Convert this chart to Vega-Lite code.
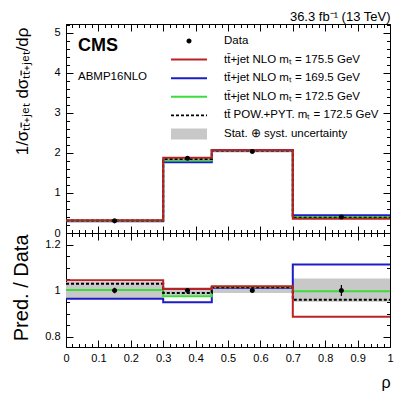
{
  "$schema": "https://vega.github.io/schema/vega-lite/v6.json",
  "autosize": {"type": "none"},
  "width": 324,
  "height": 323,
  "padding": {"left": 66, "top": 24, "right": 17, "bottom": 48},
  "background": "white",
  "title": {
    "text": "CMS",
    "subtitle": "ABMP16NLO",
    "anchor": "start",
    "frame": "group",
    "orient": "top",
    "offset": -72,
    "dx": 12,
    "font": "Liberation Sans",
    "fontSize": 18,
    "fontWeight": "bold",
    "color": "black",
    "subtitleFont": "Liberation Sans",
    "subtitleFontSize": 11.5,
    "subtitleColor": "black",
    "subtitlePadding": 16
  },
  "datasets": {
    "lines": [
      {"series": "tt\u0304+jet NLO m\u209c = 169.5 GeV", "x": 0, "value": 0.292, "ratio": 0.965},
      {"series": "tt\u0304+jet NLO m\u209c = 169.5 GeV", "x": 0.3, "value": 1.770, "ratio": 0.949},
      {"series": "tt\u0304+jet NLO m\u209c = 169.5 GeV", "x": 0.45, "value": 2.059, "ratio": 1.012},
      {"series": "tt\u0304+jet NLO m\u209c = 169.5 GeV", "x": 0.7, "value": 0.445, "ratio": 1.113},
      {"series": "tt\u0304+jet NLO m\u209c = 169.5 GeV", "x": 1, "value": 0.445, "ratio": 1.113},
      {"series": "tt\u0304+jet NLO m\u209c = 172.5 GeV", "x": 0, "value": 0.304, "ratio": 1.003},
      {"series": "tt\u0304+jet NLO m\u209c = 172.5 GeV", "x": 0.3, "value": 1.818, "ratio": 0.975},
      {"series": "tt\u0304+jet NLO m\u209c = 172.5 GeV", "x": 0.45, "value": 2.068, "ratio": 1.016},
      {"series": "tt\u0304+jet NLO m\u209c = 172.5 GeV", "x": 0.7, "value": 0.399, "ratio": 0.997},
      {"series": "tt\u0304+jet NLO m\u209c = 172.5 GeV", "x": 1, "value": 0.399, "ratio": 0.997},
      {"series": "tt\u0304 POW.+PYT. m\u209c = 172.5 GeV", "x": 0, "value": 0.312, "ratio": 1.030},
      {"series": "tt\u0304 POW.+PYT. m\u209c = 172.5 GeV", "x": 0.3, "value": 1.846, "ratio": 0.990},
      {"series": "tt\u0304 POW.+PYT. m\u209c = 172.5 GeV", "x": 0.45, "value": 2.063, "ratio": 1.014},
      {"series": "tt\u0304 POW.+PYT. m\u209c = 172.5 GeV", "x": 0.7, "value": 0.384, "ratio": 0.960},
      {"series": "tt\u0304 POW.+PYT. m\u209c = 172.5 GeV", "x": 1, "value": 0.384, "ratio": 0.960},
      {"series": "tt\u0304+jet NLO m\u209c = 175.5 GeV", "x": 0, "value": 0.317, "ratio": 1.045},
      {"series": "tt\u0304+jet NLO m\u209c = 175.5 GeV", "x": 0.3, "value": 1.878, "ratio": 1.007},
      {"series": "tt\u0304+jet NLO m\u209c = 175.5 GeV", "x": 0.45, "value": 2.074, "ratio": 1.019},
      {"series": "tt\u0304+jet NLO m\u209c = 175.5 GeV", "x": 0.7, "value": 0.354, "ratio": 0.886},
      {"series": "tt\u0304+jet NLO m\u209c = 175.5 GeV", "x": 1, "value": 0.354, "ratio": 0.886}
    ],
    "bins": [
      {"series": "Stat. \u2295 syst. uncertainty", "lo": 0, "hi": 0.3, "band_lo": 0.292, "band_hi": 0.314, "rband_lo": 0.965, "rband_hi": 1.037},
      {"series": "Stat. \u2295 syst. uncertainty", "lo": 0.3, "hi": 0.45, "band_lo": 1.826, "band_hi": 1.891, "rband_lo": 0.979, "rband_hi": 1.014},
      {"series": "Stat. \u2295 syst. uncertainty", "lo": 0.45, "hi": 0.7, "band_lo": 2.013, "band_hi": 2.063, "rband_lo": 0.989, "rband_hi": 1.014},
      {"series": "Stat. \u2295 syst. uncertainty", "lo": 0.7, "hi": 1, "band_lo": 0.381, "band_hi": 0.421, "rband_lo": 0.952, "rband_hi": 1.052}
    ],
    "points": [
      {"series": "Data", "x": 0.15, "value": 0.303, "err_lo": 0.299, "err_hi": 0.307, "ratio": 1, "rerr_lo": 0.988, "rerr_hi": 1.012},
      {"series": "Data", "x": 0.375, "value": 1.865, "err_lo": 1.846, "err_hi": 1.884, "ratio": 1, "rerr_lo": 0.99, "rerr_hi": 1.01},
      {"series": "Data", "x": 0.575, "value": 2.035, "err_lo": 2.027, "err_hi": 2.043, "ratio": 1, "rerr_lo": 0.996, "rerr_hi": 1.004},
      {"series": "Data", "x": 0.85, "value": 0.40, "err_lo": 0.39, "err_hi": 0.41, "ratio": 1, "rerr_lo": 0.976, "rerr_hi": 1.024}
    ]
  },
  "resolve": {
    "scale": {"y": "independent"},
    "axis": {"x": "independent", "y": "independent"}
  },
  "layer": [
    {
      "data": {"name": "bins"},
      "mark": {"type": "rect", "opacity": 1},
      "encoding": {
        "x": {"field": "lo", "type": "quantitative", "scale": {"domain": [0, 1], "nice": false, "zero": false},
          "axis": {"orient": "top", "values": [0, 0.1, 0.2, 0.3, 0.4, 0.5, 0.6, 0.7, 0.8, 0.9, 1], "tickSize": -7, "labels": false, "domain": false,
            "title": "36.3 fb\u207b\u00b9 (13 TeV)", "titleX": 324, "titleY": -4, "titleAlign": "right", "titleAnchor": "end", "titleBaseline": "alphabetic", "titleFontSize": 13, "titleAngle": 0}},
        "x2": {"field": "hi"},
        "y": {"field": "band_lo", "type": "quantitative", "scale": {"domain": [0, 5.22], "range": [209, 0], "nice": false, "zero": false},
          "axis": {"orient": "left", "values": [0, 1, 2, 3, 4, 5], "tickSize": -7, "labelPadding": 13, "format": "d", "domain": false,
            "title": "1/\u03c3\u209c\u209c\u0304\u208a\u2c7c\u2091\u209c d\u03c3\u209c\u209c\u0304\u208a\u2c7c\u2091\u209c/d\u03c1", "titleX": -39, "titleY": 3, "titleAngle": -90, "titleAlign": "right", "titleBaseline": "alphabetic", "titleFontSize": 17}},
        "y2": {"field": "band_hi"},
        "color": {"field": "series", "type": "nominal",
          "scale": {
            "domain": ["Data", "tt\u0304+jet NLO m\u209c = 175.5 GeV", "tt\u0304+jet NLO m\u209c = 169.5 GeV", "tt\u0304+jet NLO m\u209c = 172.5 GeV", "tt\u0304 POW.+PYT. m\u209c = 172.5 GeV", "Stat. \u2295 syst. uncertainty"],
            "range": ["#000000", "#bb2228", "#1c1cc8", "#3ddc3d", "#000000", "#c8c8c8"]
          }
        }
      }
    },
    {
      "data": {"name": "lines"},
      "mark": {"type": "line", "interpolate": "step-after", "strokeWidth": 2},
      "encoding": {
        "x": {"field": "x", "type": "quantitative", "scale": {"domain": [0, 1], "nice": false, "zero": false},
          "axis": {"orient": "top", "values": [0, 0.02, 0.04, 0.06, 0.08, 0.1, 0.12, 0.14, 0.16, 0.18, 0.2, 0.22, 0.24, 0.26, 0.28, 0.3, 0.32, 0.34, 0.36, 0.38, 0.4, 0.42, 0.44, 0.46, 0.48, 0.5, 0.52, 0.54, 0.56, 0.58, 0.6, 0.62, 0.64, 0.66, 0.68, 0.7, 0.72, 0.74, 0.76, 0.78, 0.8, 0.82, 0.84, 0.86, 0.88, 0.9, 0.92, 0.94, 0.96, 0.98, 1], "tickSize": -3.5, "labels": false, "domain": false, "title": null}},
        "y": {"field": "value", "type": "quantitative", "scale": {"domain": [0, 5.22], "range": [209, 0], "nice": false, "zero": false},
          "axis": {"orient": "left", "values": [0, 0.2, 0.4, 0.6, 0.8, 1, 1.2, 1.4, 1.6, 1.8, 2, 2.2, 2.4, 2.6, 2.8, 3, 3.2, 3.4, 3.6, 3.8, 4, 4.2, 4.4, 4.6, 4.8, 5, 5.2], "tickSize": -3.5, "labels": false, "domain": false, "title": null}},
        "color": {"field": "series", "type": "nominal"},
        "strokeDash": {"field": "series", "type": "nominal", "legend": null,
          "scale": {"domain": ["tt\u0304+jet NLO m\u209c = 175.5 GeV", "tt\u0304+jet NLO m\u209c = 169.5 GeV", "tt\u0304+jet NLO m\u209c = 172.5 GeV", "tt\u0304 POW.+PYT. m\u209c = 172.5 GeV"],
            "range": [[1, 0], [1, 0], [1, 0], [3, 2]]}}
      }
    },
    {
      "data": {"name": "points"},
      "mark": {"type": "rule", "strokeWidth": 1.2, "color": "black"},
      "encoding": {
        "x": {"field": "x", "type": "quantitative", "scale": {"domain": [0, 1], "nice": false, "zero": false},
          "axis": {"orient": "bottom", "offset": -114, "values": [0, 0.1, 0.2, 0.3, 0.4, 0.5, 0.6, 0.7, 0.8, 0.9, 1], "tickSize": -7, "labels": false, "domain": false, "title": null}},
        "y": {"field": "err_lo", "type": "quantitative", "scale": {"domain": [0, 5.22], "range": [209, 0], "nice": false, "zero": false},
          "axis": {"orient": "right", "values": [0, 1, 2, 3, 4, 5], "tickSize": -7, "labels": false, "domain": false, "title": null}},
        "y2": {"field": "err_hi"}
      }
    },
    {
      "data": {"name": "points"},
      "mark": {"type": "point", "filled": true, "size": 144, "opacity": 1, "strokeWidth": 0},
      "encoding": {
        "x": {"field": "x", "type": "quantitative", "scale": {"domain": [0, 1], "nice": false, "zero": false},
          "axis": {"orient": "bottom", "offset": -114, "values": [0, 0.02, 0.04, 0.06, 0.08, 0.1, 0.12, 0.14, 0.16, 0.18, 0.2, 0.22, 0.24, 0.26, 0.28, 0.3, 0.32, 0.34, 0.36, 0.38, 0.4, 0.42, 0.44, 0.46, 0.48, 0.5, 0.52, 0.54, 0.56, 0.58, 0.6, 0.62, 0.64, 0.66, 0.68, 0.7, 0.72, 0.74, 0.76, 0.78, 0.8, 0.82, 0.84, 0.86, 0.88, 0.9, 0.92, 0.94, 0.96, 0.98, 1], "tickSize": -3.5, "labels": false, "domain": false, "title": null}},
        "y": {"field": "value", "type": "quantitative", "scale": {"domain": [0, 5.22], "range": [209, 0], "nice": false, "zero": false},
          "axis": {"orient": "right", "values": [0, 0.2, 0.4, 0.6, 0.8, 1, 1.2, 1.4, 1.6, 1.8, 2, 2.2, 2.4, 2.6, 2.8, 3, 3.2, 3.4, 3.6, 3.8, 4, 4.2, 4.4, 4.6, 4.8, 5, 5.2], "tickSize": -3.5, "labels": false, "domain": false, "title": null}},
        "color": {"field": "series", "type": "nominal",
          "legend": {
            "orient": "none", "legendX": 105, "legendY": 11, "title": null, "padding": 0,
            "rowPadding": 6.6, "labelFont": "Liberation Sans", "labelFontSize": 11.5, "labelColor": "black",
            "labelOffset": 29, "symbolOffset": 12, "labelLimit": 300, "symbolSize": 144, "symbolStrokeWidth": 0, "symbolOpacity": 1
          }
        },
        "shape": {"field": "series", "type": "nominal",
          "scale": {
            "domain": ["Data", "tt\u0304+jet NLO m\u209c = 175.5 GeV", "tt\u0304+jet NLO m\u209c = 169.5 GeV", "tt\u0304+jet NLO m\u209c = 172.5 GeV", "tt\u0304 POW.+PYT. m\u209c = 172.5 GeV", "Stat. \u2295 syst. uncertainty"],
            "range": [
              "M-0.42,0A0.42,0.42 0 1,0 0.42,0A0.42,0.42 0 1,0 -0.42,0Z",
              "M-3,-0.17H3V0.17H-3Z",
              "M-3,-0.17H3V0.17H-3Z",
              "M-3,-0.17H3V0.17H-3Z",
              "M-3,-0.13h0.5v0.26h-0.5zM-2.1667,-0.13h0.5v0.26h-0.5zM-1.3333,-0.13h0.5v0.26h-0.5zM-0.5,-0.13h0.5v0.26h-0.5zM0.3333,-0.13h0.5v0.26h-0.5zM1.1667,-0.13h0.5v0.26h-0.5zM2,-0.13h0.5v0.26h-0.5zM2.8333,-0.13h0.1667v0.26h-0.1667z",
              "M-3,-0.9H3V0.9H-3Z"
            ]
          },
          "legend": {
            "orient": "none", "legendX": 105, "legendY": 11, "title": null, "padding": 0,
            "rowPadding": 6.6, "labelFont": "Liberation Sans", "labelFontSize": 11.5, "labelColor": "black",
            "labelOffset": 29, "symbolOffset": 12, "labelLimit": 300, "symbolSize": 144, "symbolStrokeWidth": 0, "symbolOpacity": 1
          }
        }
      }
    },
    {
      "data": {"name": "bins"},
      "mark": {"type": "rect", "opacity": 1},
      "encoding": {
        "x": {"field": "lo", "type": "quantitative", "scale": {"domain": [0, 1], "nice": false, "zero": false},
          "axis": {"orient": "top", "offset": -209, "values": [0, 0.1, 0.2, 0.3, 0.4, 0.5, 0.6, 0.7, 0.8, 0.9, 1], "tickSize": -7, "labels": false, "domain": true, "domainColor": "black", "domainWidth": 1, "title": null}},
        "x2": {"field": "hi"},
        "y": {"field": "rband_lo", "type": "quantitative", "scale": {"domain": [0.755, 1.25], "range": [323, 209], "nice": false, "zero": false},
          "axis": {"orient": "left", "values": [0.8, 1, 1.2], "tickSize": -7, "labelPadding": 13, "format": "~g", "domain": false,
            "title": "Pred. / Data", "titleX": -39, "titleY": 210, "titleAngle": -90, "titleAlign": "right", "titleBaseline": "alphabetic", "titleFontSize": 20}},
        "y2": {"field": "rband_hi"},
        "color": {"field": "series", "type": "nominal"}
      }
    },
    {
      "data": {"name": "lines"},
      "mark": {"type": "line", "interpolate": "step-after", "strokeWidth": 2},
      "encoding": {
        "x": {"field": "x", "type": "quantitative", "scale": {"domain": [0, 1], "nice": false, "zero": false},
          "axis": {"orient": "top", "offset": -209, "values": [0, 0.02, 0.04, 0.06, 0.08, 0.1, 0.12, 0.14, 0.16, 0.18, 0.2, 0.22, 0.24, 0.26, 0.28, 0.3, 0.32, 0.34, 0.36, 0.38, 0.4, 0.42, 0.44, 0.46, 0.48, 0.5, 0.52, 0.54, 0.56, 0.58, 0.6, 0.62, 0.64, 0.66, 0.68, 0.7, 0.72, 0.74, 0.76, 0.78, 0.8, 0.82, 0.84, 0.86, 0.88, 0.9, 0.92, 0.94, 0.96, 0.98, 1], "tickSize": -3.5, "labels": false, "domain": false, "title": null}},
        "y": {"field": "ratio", "type": "quantitative", "scale": {"domain": [0.755, 1.25], "range": [323, 209], "nice": false, "zero": false},
          "axis": {"orient": "left", "values": [0.8, 0.85, 0.9, 0.95, 1, 1.05, 1.1, 1.15, 1.2], "tickSize": -3.5, "labels": false, "domain": false, "title": null}},
        "color": {"field": "series", "type": "nominal"},
        "strokeDash": {"field": "series", "type": "nominal", "legend": null}
      }
    },
    {
      "data": {"name": "points"},
      "mark": {"type": "rule", "strokeWidth": 1.2, "color": "black"},
      "encoding": {
        "x": {"field": "x", "type": "quantitative", "scale": {"domain": [0, 1], "nice": false, "zero": false},
          "axis": {"orient": "bottom", "values": [0, 0.1, 0.2, 0.3, 0.4, 0.5, 0.6, 0.7, 0.8, 0.9, 1], "tickSize": -7, "labelPadding": 12, "format": "~g", "domain": false,
            "title": "\u03c1", "titleX": 324, "titleY": 40, "titleAlign": "right", "titleAnchor": "end", "titleBaseline": "alphabetic", "titleFontSize": 16, "titleAngle": 0}},
        "y": {"field": "rerr_lo", "type": "quantitative", "scale": {"domain": [0.755, 1.25], "range": [323, 209], "nice": false, "zero": false},
          "axis": {"orient": "right", "values": [0.8, 1, 1.2], "tickSize": -7, "labels": false, "domain": false, "title": null}},
        "y2": {"field": "rerr_hi"}
      }
    },
    {
      "data": {"name": "points"},
      "mark": {"type": "point", "filled": true, "size": 144, "opacity": 1, "strokeWidth": 0},
      "encoding": {
        "x": {"field": "x", "type": "quantitative", "scale": {"domain": [0, 1], "nice": false, "zero": false},
          "axis": {"orient": "bottom", "values": [0, 0.02, 0.04, 0.06, 0.08, 0.1, 0.12, 0.14, 0.16, 0.18, 0.2, 0.22, 0.24, 0.26, 0.28, 0.3, 0.32, 0.34, 0.36, 0.38, 0.4, 0.42, 0.44, 0.46, 0.48, 0.5, 0.52, 0.54, 0.56, 0.58, 0.6, 0.62, 0.64, 0.66, 0.68, 0.7, 0.72, 0.74, 0.76, 0.78, 0.8, 0.82, 0.84, 0.86, 0.88, 0.9, 0.92, 0.94, 0.96, 0.98, 1], "tickSize": -3.5, "labels": false, "domain": false, "title": null}},
        "y": {"field": "ratio", "type": "quantitative", "scale": {"domain": [0.755, 1.25], "range": [323, 209], "nice": false, "zero": false},
          "axis": {"orient": "right", "values": [0.8, 0.85, 0.9, 0.95, 1, 1.05, 1.1, 1.15, 1.2], "tickSize": -3.5, "labels": false, "domain": false, "title": null}},
        "color": {"field": "series", "type": "nominal"},
        "shape": {"field": "series", "type": "nominal"}
      }
    }
  ],
  "config": {
    "font": "Liberation Sans",
    "view": {"stroke": "black", "strokeWidth": 1},
    "axis": {
      "grid": false,
      "labelFont": "Liberation Sans",
      "labelFontSize": 11,
      "labelColor": "black",
      "tickColor": "black",
      "tickWidth": 1,
      "titleFont": "Liberation Sans",
      "titleColor": "black",
      "titleFontWeight": "normal",
      "labelFlush": false,
      "labelOverlap": false,
      "labelBound": false
    }
  }
}
